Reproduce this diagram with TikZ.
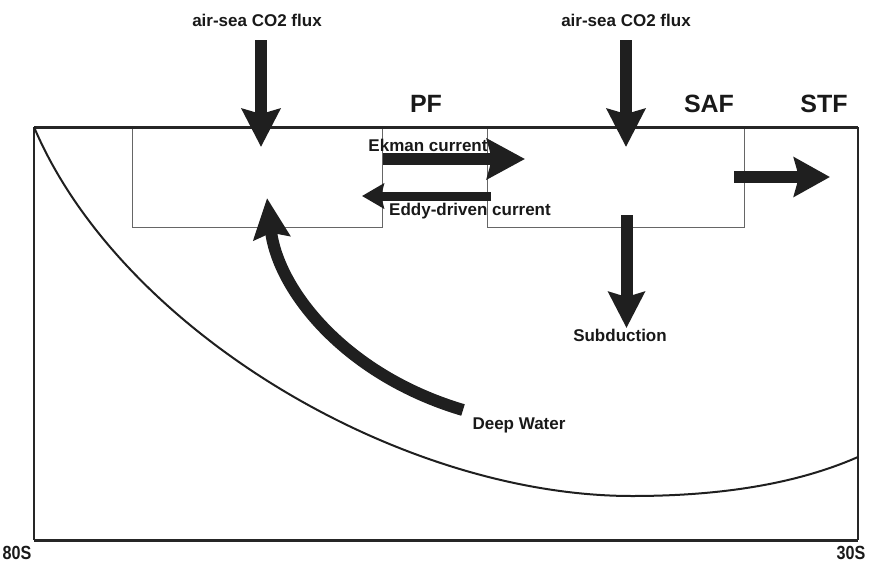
\documentclass[tikz,border=0pt]{standalone}
\usepackage{fontspec}
\setmainfont{Liberation Sans}
\usetikzlibrary{arrows.meta}
\begin{document}
\begin{tikzpicture}[x=1pt,y=-1pt,
  lbl/.style={font=\bfseries\fontsize{17}{20}\selectfont, inner sep=0pt, text=black!90},
  big/.style={font=\bfseries\fontsize{25}{28}\selectfont, inner sep=0pt, text=black!90},
  lat/.style={font=\bfseries\fontsize{19}{22}\selectfont, inner sep=0pt, text=black!90, xscale=0.85},
  fat/.style={line width=12pt, draw=black!88, -{Stealth[length=38pt,width=38pt,inset=5pt]}},
  thin/.style={line width=9pt, draw=black!88, -{Stealth[length=22pt,width=25pt,inset=3pt]}},
  boxl/.style={draw=black!60, line width=0.9pt}]
\useasboundingbox (0,0) rectangle (869,562);
% frame
\coordinate (tl) at (34,127);
\coordinate (tr) at (858,127);
\coordinate (bl) at (34,540);
\coordinate (br) at (858,540);
\draw[line width=2pt, draw=black!85] (tl) -- (bl);
\draw[line width=2pt, draw=black!85] (tr) -- (br);
\draw[line width=3pt, draw=black!85] (bl) -- (br);
% boxes
\draw[boxl] (132,127) rectangle (382,227);
\draw[boxl] (487,127) rectangle (744,227);
\draw[line width=3pt, draw=black!85] (tl) -- (tr);
% curve
\coordinate (cmin) at (632,496);
\coordinate (cend) at (858,457);
\draw[line width=2pt, draw=black!88] (tl) .. controls (120,330) and (400,496) .. (cmin)
  .. controls (740,496) and (810,478) .. (cend);
% arrows
\coordinate (a1s) at (261,40);  \coordinate (a1e) at (261,147);
\coordinate (a2s) at (626,40);  \coordinate (a2e) at (626,147);
\coordinate (eks) at (383,159); \coordinate (eke) at (525,159);
\coordinate (eds) at (491,196); \coordinate (ede) at (362,196);
\coordinate (sts) at (734,177); \coordinate (ste) at (830,177);
\coordinate (sus) at (626.5,215); \coordinate (sue) at (626.5,328);
\coordinate (dws) at (463,410); \coordinate (dwe) at (267,198);
\draw[fat] (a1s) -- (a1e);
\draw[fat] (a2s) -- (a2e);
\draw[fat, -{Stealth[length=38pt,width=40pt,inset=5pt]}] (eks) -- (eke);
\draw[thin] (eds) -- (ede);
\draw[fat, -{Stealth[length=36pt,width=39pt,inset=5pt]}] (sts) -- (ste);
\draw[fat, -{Stealth[length=36pt,width=36pt,inset=5pt]}] (sus) -- (sue);
\draw[fat, -{Stealth[length=40pt,width=36pt,inset=5pt]}] (dws) .. controls (345,375) and (278,290) .. (dwe);
% labels
\node[lbl] (t1) at (257,20) {air-sea CO2 flux};
\node[lbl] (t2) at (626,20) {air-sea CO2 flux};
\node[big] (pf) at (426,104) {PF};
\node[big] (saf) at (709,104) {SAF};
\node[big] (stf) at (824,104) {STF};
\node[lbl] (ek) at (428,145) {Ekman current};
\node[lbl] (ed) at (470,211) {Eddy-driven current};
\node[lbl] (su) at (620,335) {Subduction};
\node[lbl] (dw) at (519,425) {Deep Water};
\node[lat] (s80) at (17,553) {80S};
\node[lat] (s30) at (851,553) {30S};
\end{tikzpicture}
\end{document}
